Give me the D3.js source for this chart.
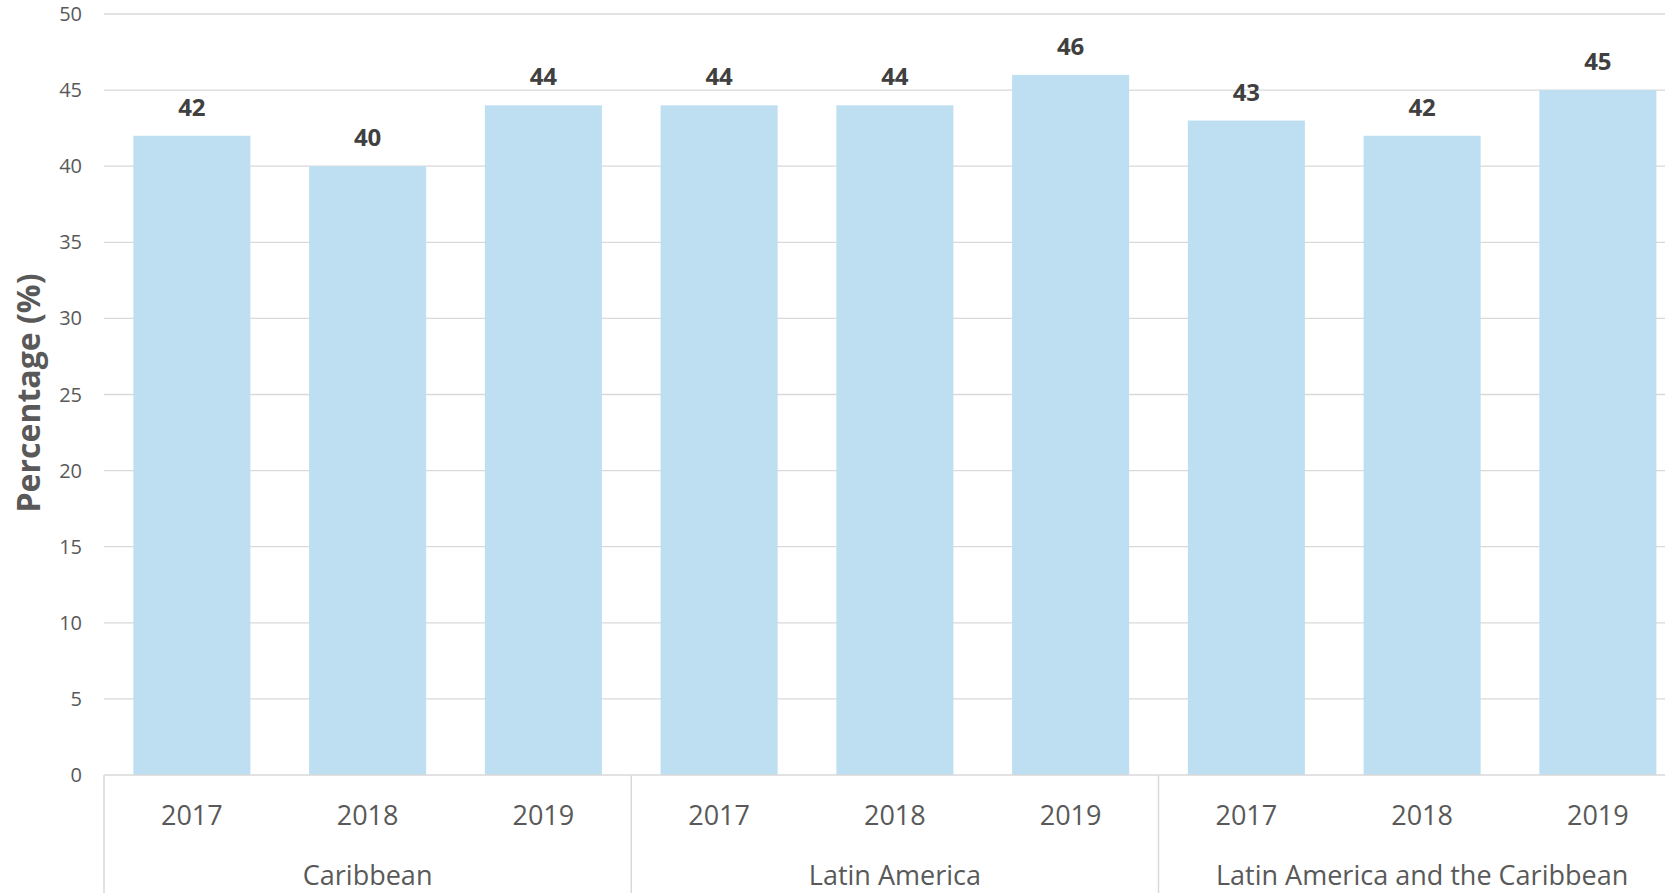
<!DOCTYPE html>
<html>
<head>
<meta charset="utf-8">
<script src="https://cdn.jsdelivr.net/npm/d3@7"></script>
<style>
    html, body { margin: 0; padding: 0; background: #fff; overflow: hidden; }
    svg { display: block; font-family: "Open Sans", sans-serif; }
</style>
</head>
<body>
<svg id="chart" width="1665" height="893"></svg>
<script>
// data
var groups = ['Caribbean', 'Latin America', 'Latin America and the Caribbean'];
var years = ['2017', '2018', '2019'];
var caribbean = [42, 40, 44];
var latinAmerica = [44, 44, 46];
var latinAmericaCaribbean = [43, 42, 45];
var yTicks = [0, 5, 10, 15, 20, 25, 30, 35, 40, 45, 50];

var seriesByGroup = [caribbean, latinAmerica, latinAmericaCaribbean];

var rows = [];
groups.forEach((g, gi) => {
    years.forEach((yr, yi) => {
        rows.push({group: g, gi: gi, year: yr, value: seriesByGroup[gi][yi], key: g + '|' + yr});
    });
});

var svg = d3.select('#chart');

var left = 104, step = 175.75;
var right = left + rows.length * step;

var x = d3.scaleBand()
    .domain(rows.map(d => d.key))
    .range([left, right])
    .paddingInner(0.334)
    .paddingOuter(0.167);

var y = d3.scaleLinear().domain([0, 50]).range([775, 14]);

// gridlines
svg.append('g')
    .selectAll('line')
    .data(yTicks.filter(t => t > 0))
    .enter().append('line')
    .attr('x1', left).attr('x2', right)
    .attr('y1', d => y(d)).attr('y2', d => y(d))
    .attr('stroke', '#d9d9d9')
    .attr('stroke-width', 1.3);

// y tick labels
svg.append('g')
    .selectAll('text')
    .data(yTicks)
    .enter().append('text')
    .attr('x', 82)
    .attr('y', d => y(d))
    .attr('dy', '0.35em')
    .attr('text-anchor', 'end')
    .attr('font-size', 20)
    .attr('fill', '#595959')
    .text(d => d);

// bars
svg.append('g')
    .selectAll('rect')
    .data(rows)
    .enter().append('rect')
    .attr('x', d => x(d.key))
    .attr('width', x.bandwidth())
    .attr('y', d => y(d.value))
    .attr('height', d => y(0) - y(d.value))
    .attr('fill', '#bddff1');

// value labels
svg.append('g')
    .selectAll('text')
    .data(rows)
    .enter().append('text')
    .attr('x', d => x(d.key) + x.bandwidth() / 2)
    .attr('y', d => y(d.value) - 20)
    .attr('text-anchor', 'middle')
    .attr('font-size', 24)
    .attr('font-weight', 'bold')
    .attr('fill', '#404040')
    .text(d => d.value);

// x axis line
svg.append('line')
    .attr('x1', left).attr('x2', right)
    .attr('y1', y(0)).attr('y2', y(0))
    .attr('stroke', '#d9d9d9')
    .attr('stroke-width', 1.5);

// group separators
var bounds = d3.range(groups.length + 1).map(i => left + i * years.length * step);
svg.append('g')
    .selectAll('line')
    .data(bounds)
    .enter().append('line')
    .attr('x1', d => d).attr('x2', d => d)
    .attr('y1', y(0)).attr('y2', 893)
    .attr('stroke', '#d9d9d9')
    .attr('stroke-width', 1.5);

// year labels
svg.append('g')
    .selectAll('text')
    .data(rows)
    .enter().append('text')
    .attr('x', d => x(d.key) + x.bandwidth() / 2)
    .attr('y', 825)
    .attr('text-anchor', 'middle')
    .attr('font-size', 27)
    .attr('fill', '#595959')
    .text(d => d.year);

// group labels
svg.append('g')
    .selectAll('text')
    .data(groups)
    .enter().append('text')
    .attr('x', (d, i) => (bounds[i] + bounds[i + 1]) / 2)
    .attr('y', 885)
    .attr('text-anchor', 'middle')
    .attr('font-size', 27)
    .attr('fill', '#595959')
    .text(d => d);

// y axis title
svg.append('text')
    .attr('transform', 'translate(40,393) rotate(-90)')
    .attr('text-anchor', 'middle')
    .attr('font-size', 32)
    .attr('font-weight', 'bold')
    .attr('fill', '#595959')
    .text('Percentage (%)');
</script>
</body>
</html>
